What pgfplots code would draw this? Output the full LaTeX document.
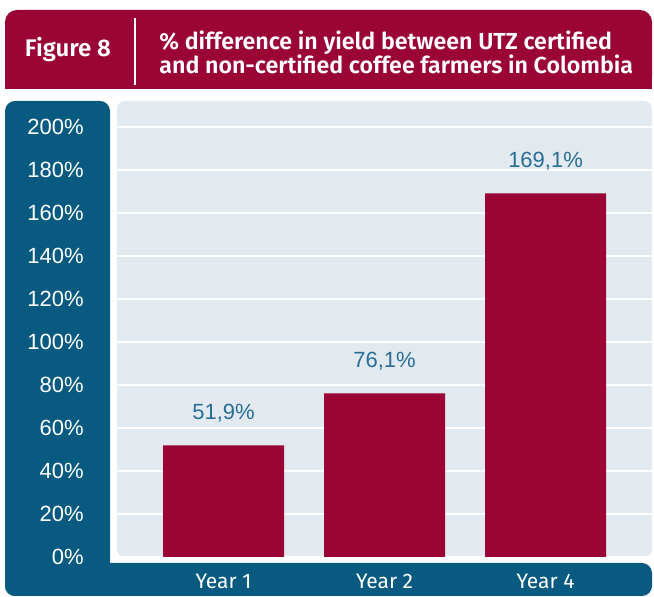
\documentclass[border=0pt]{standalone}
\usepackage{pgfplots}
\pgfplotsset{compat=1.18}
\usepackage{fontspec}
\setmainfont{Liberation Sans}
\newfontfamily\titlefont{Fira Sans}[BoldFont={Fira Sans SemiBold}]

\definecolor{utzred}{RGB}{155,5,54}
\definecolor{utzblue}{RGB}{8,90,128}
\definecolor{plotbg}{RGB}{226,234,240}
\definecolor{valblue}{RGB}{40,110,150}

\begin{document}
\begin{tikzpicture}
% frame, drawn in pixel units of the reference (y downwards)
\begin{scope}[x=0.5pt,y=-0.5pt]
  \useasboundingbox (0,0) rectangle (654,597);
  \fill[utzred,rounded corners=6pt] (5,10) rectangle (652,89);
  \fill[utzred] (5,60) rectangle (652,89);
  \draw[white,line width=0.8pt] (135,18) -- (135,85);
  \node[text=white,font=\titlefont\bfseries\fontsize{12}{14}\selectfont] at (68,50) {Figure 8};
  \node[text=white,anchor=west,align=left,inner sep=0pt,
        font=\titlefont\bfseries\fontsize{11.6}{12}\selectfont] at (159,52)
       {\% difference in yield between UTZ certified\\and non-certified coffee farmers in Colombia};
  \fill[utzblue,rounded corners=5pt] (5,101) rectangle (110,596);
  \fill[utzblue,rounded corners=5pt] (5,563) rectangle (652,596);
  \fill[plotbg,rounded corners=4pt] (117,101) rectangle (652,557);
\end{scope}

\begin{axis}[
    at={(58.5pt,-278.5pt)},
    anchor=south west,
    scale only axis,
    width=267.5pt,
    height=228pt,
    xmin=-0.6615, xmax=2.661,
    ymin=0, ymax=212.1,
    axis line style={draw=none},
    tick style={draw=none},
    major tick length=0pt,
    ymajorgrids=true,
    grid style={draw=white,line width=0.8pt},
    ytick={0,20,...,200},
    yticklabel={\pgfmathprintnumber[assume math mode=true]{\tick}\%},
    yticklabel style={text=white,font=\fontsize{11}{13}\selectfont,
        anchor=east,inner sep=0pt,xshift=-16.5pt},
    xtick={0,1,2},
    xticklabels={Year 1,Year 2,Year 4},
    xticklabel style={text=white,font=\titlefont\fontsize{10.5}{12}\selectfont,
        anchor=north,inner sep=0pt,yshift=-8.5pt},
    ybar,
    bar width=60.5pt,
    nodes near coords={\pgfmathprintnumber[fixed,fixed zerofill,precision=1,use comma,assume math mode=true]{\pgfplotspointmeta}\%},
    every node near coord/.append style={text=valblue,
        font=\fontsize{11}{13}\selectfont,inner sep=0pt,yshift=11.5pt},
    clip=false,
]
\addplot[fill=utzred,draw=none] coordinates {
    (0,51.9)
    (1,76.1)
    (2,169.1)
};
\end{axis}
\end{tikzpicture}
\end{document}
